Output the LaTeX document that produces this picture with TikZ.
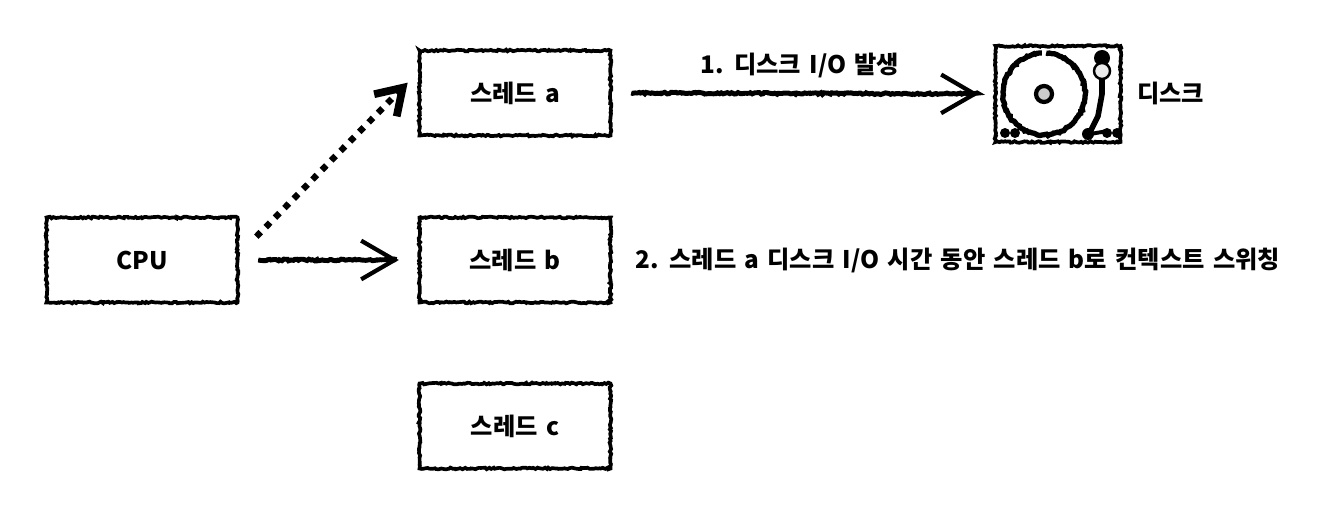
\documentclass[tikz,border=0pt]{standalone}
\usepackage{fontspec}
\setmainfont[WordSpace=1.5]{Noto Sans CJK KR}
\usetikzlibrary{arrows.meta,decorations.pathmorphing}
\tikzset{
	rough/.style={decorate,decoration={random steps,segment length=1.1pt,amplitude=0.5pt},line width=2.1pt},
	threadbox/.style={draw,rough,minimum width=3.82cm,minimum height=1.7cm,font=\bfseries\fontsize{13.8}{16}\selectfont},
	label/.style={font=\bfseries\fontsize{13.8}{16}\selectfont},
	openarrow/.style={line width=1.6pt,-{Straight Barb[length=19pt,width=22pt,line width=2.4pt]},postaction={draw,-,rough,line width=2.8pt,shorten >=2pt}}
}
\begin{document}
\begin{tikzpicture}[x=0.02cm,y=0.02cm]
	\useasboundingbox (0,0) rectangle (1317,514);
	% the cpu and the three threads
	\node[threadbox] (cpu) at (142,254) {CPU};
	\node[threadbox] (threada) at (515,421) {스레드 a};
	\node[threadbox] (threadb) at (515,254) {스레드 b};
	\node[threadbox] (threadc) at (515,88) {스레드 c};
	% the disk and the labels
	\node[draw,rough,minimum width=2.5cm,minimum height=1.92cm,inner sep=0pt] (disk) at (1058,420) {};
	\node[label,anchor=west] (disklabel) at (1131,421) {디스크};
	\node[label] (stepone) at (800,449) {1. 디스크 I/O 발생};
	\node[label] (steptwo) at (958,254) {2. 스레드 a 디스크 I/O 시간 동안 스레드 b로 컨텍스트 스위칭};
	% the connectors
	\draw[line width=3.6pt,dash pattern=on 3.6pt off 4pt,-{Straight Barb[length=14pt,width=18pt,line width=4.4pt]}] ([shift={(17,-21)}]cpu.north east) -- ([shift={(-10,-34)}]threada.north west);
	\draw[openarrow] ([xshift=19*0.567pt]cpu.east) -- ([xshift=-19*0.567pt]threadb.west);
	\draw[openarrow] ([xshift=19*0.567pt]threada.east) -- ([xshift=-15*0.567pt]disk.west);
	% the turntable
	\begin{scope}[shift={(disk.center)}]
		\draw[rough,line width=3pt] (-14,0) ++(87:41) arc (87:-267:41);
		\draw[line width=2.4pt,fill=gray!40] (-14,0) circle (8);
		\draw[line width=3.2pt] (44,36) -- (44,0) -- (40,-22) -- (32,-38);
		\fill (44,36) circle (8);
		\draw[line width=1.4pt,fill=gray!15] (44,23) circle (8);
		\fill (-53,-39) circle (5) (-43,-39) circle (5) (49,-39) circle (5) (59,-39) circle (5) (30,-40) circle (6);
		\draw[line width=2.2pt] (32,-40) -- (50,-37);
	\end{scope}
\end{tikzpicture}
\end{document}
